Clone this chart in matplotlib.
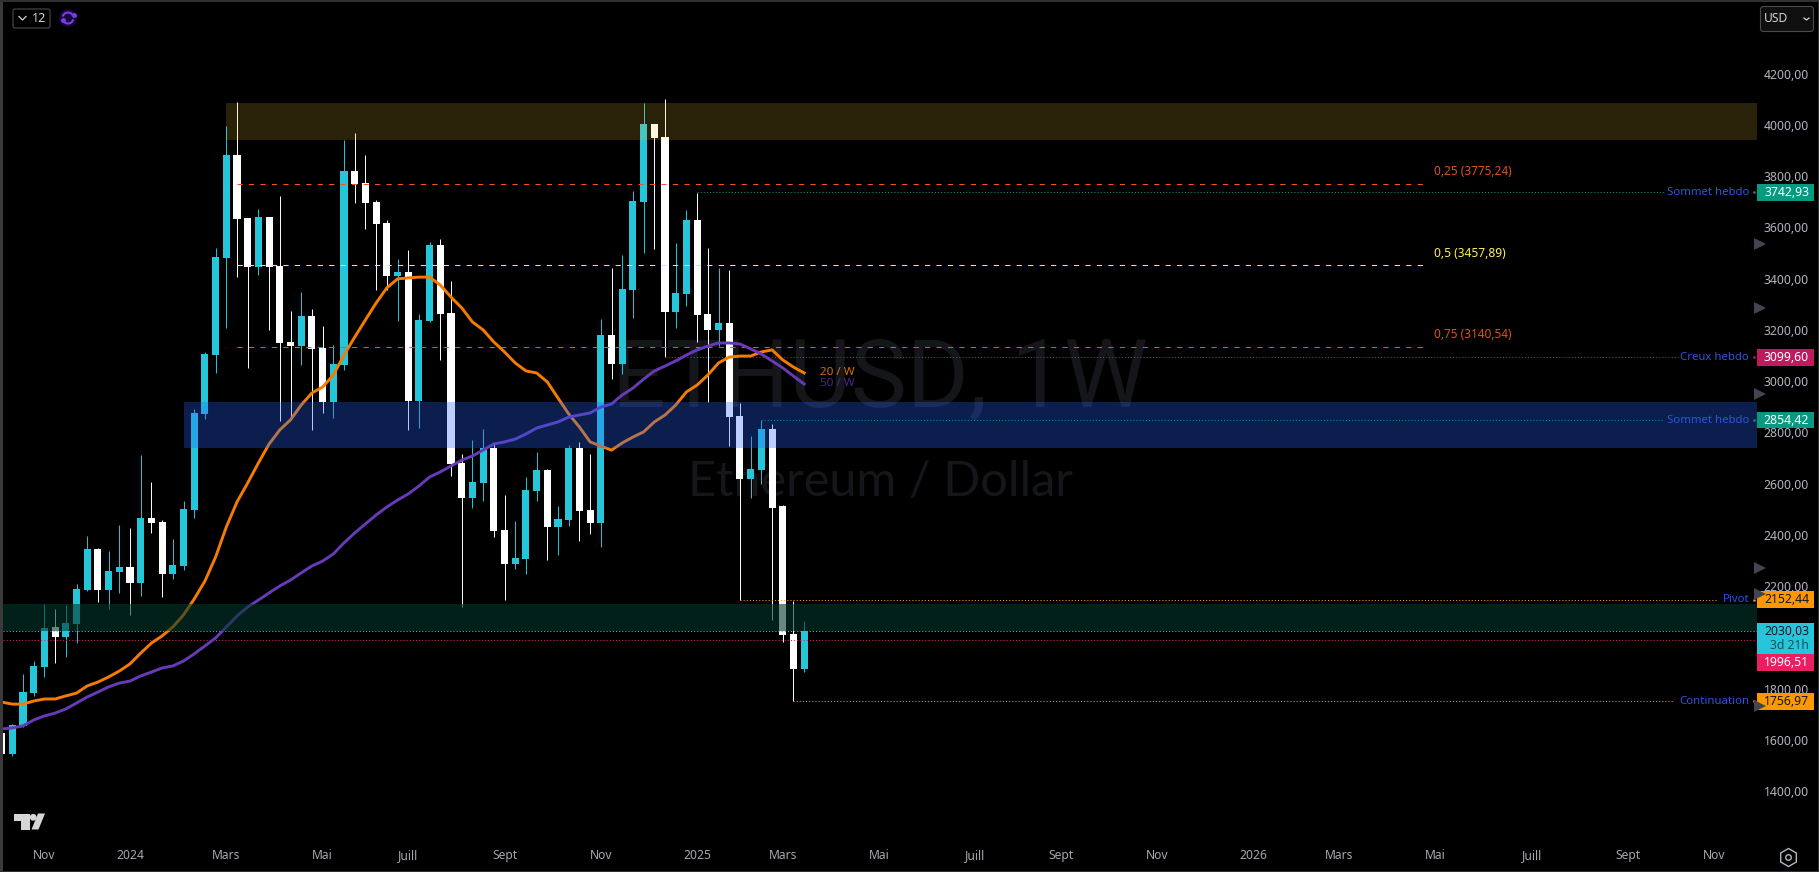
import matplotlib
matplotlib.use("Agg")
import matplotlib.pyplot as plt
from matplotlib.patches import Rectangle, Polygon, FancyBboxPatch, Arc, Circle
from matplotlib.transforms import blended_transform_factory

# ------------------ Weekly candles (ETHUSD) ------------------
opens = [1633, 1551, 1661, 1789, 1891, 2047, 2008, 2059, 2191, 2351, 2191, 2261, 2281, 2219, 2472, 2457, 2254, 2285, 2503,
         2878, 3108, 3487, 3888, 3643, 3452, 3647, 3455, 3159, 3143, 3260, 3135, 2925, 3069, 3826, 3779, 3705, 3623, 3416,
         3432, 2929, 3241, 3537, 3272, 2687, 2550, 2609, 2745, 2425, 2293, 2312, 2577, 2659, 2437, 2464, 2745, 2503, 2453,
         3186, 3073, 3362, 3705, 4009, 3959, 3276, 3346, 3635, 3268, 3206, 3233, 2870, 2624, 2659, 2819, 2519, 2020, 1883]
highs = [1637, 1668, 1863, 1914, 2137, 2117, 2133, 2215, 2402, 2355, 2343, 2445, 2433, 2718, 2613, 2464, 2390, 2538, 2897,
         3120, 3526, 4002, 4095, 3643, 3678, 3647, 3729, 3280, 3354, 3288, 3221, 3147, 3947, 3974, 3888, 3713, 3635, 3483,
         3518, 3268, 3549, 3561, 3397, 2722, 2776, 2819, 2765, 2562, 2460, 2632, 2730, 2663, 2519, 2757, 2769, 2722, 3249,
         3448, 3498, 3748, 4091, 4009, 4107, 3545, 3674, 3740, 3526, 3448, 3440, 2921, 2792, 2855, 2839, 2523, 2148, 2070]
lows = [1551, 1544, 1657, 1778, 1852, 1906, 1930, 1984, 2187, 2144, 2117, 2180, 2094, 2168, 2414, 2164, 2234, 2269, 2472,
        2858, 3038, 3213, 3412, 3057, 3420, 3206, 2851, 2858, 3069, 2816, 2882, 2862, 3050, 3701, 3600, 3362, 3362, 3241,
        2816, 2823, 3237, 3089, 2636, 2125, 2511, 2538, 2398, 2152, 2273, 2254, 2538, 2308, 2328, 2441, 2382, 2410, 2359,
        3015, 3034, 3253, 3506, 3522, 3100, 3213, 3299, 3159, 2925, 3143, 2753, 2152, 2550, 2605, 2074, 1988, 1757, 1871]
closes = [1551, 1664, 1793, 1895, 2043, 2008, 2063, 2195, 2351, 2191, 2265, 2281, 2219, 2472, 2453, 2254, 2289, 2507, 2882,
          3112, 3490, 3888, 3639, 3452, 3647, 3452, 3155, 3143, 3260, 3132, 2925, 3073, 3826, 3775, 3701, 3619, 3416, 3432,
          2929, 3245, 3537, 3268, 2683, 2550, 2613, 2745, 2421, 2293, 2316, 2581, 2659, 2437, 2468, 2745, 2499, 2453, 3186,
          3073, 3366, 3709, 4009, 3955, 3276, 3350, 3635, 3264, 3206, 3233, 2866, 2624, 2663, 2819, 2511, 2016, 1883, 2030]

# ------------------ Moving averages ------------------
ma20 = [1754, 1746, 1746, 1758, 1766, 1766, 1778, 1789, 1817, 1832, 1852, 1875, 1903, 1945, 1984, 2012, 2047, 2094, 2156,
        2226, 2320, 2437, 2535, 2609, 2687, 2761, 2816, 2855, 2913, 2960, 2983, 3030, 3108, 3178, 3245, 3311, 3370, 3405,
        3409, 3412, 3412, 3381, 3334, 3292, 3237, 3206, 3159, 3120, 3077, 3046, 3038, 3003, 2940, 2878, 2827, 2769, 2753,
        2737, 2765, 2788, 2808, 2847, 2874, 2913, 2964, 2991, 3030, 3077, 3100, 3104, 3104, 3120, 3128, 3089, 3061, 3038]
ma50 = [1649, 1653, 1661, 1684, 1700, 1711, 1727, 1750, 1774, 1793, 1813, 1828, 1836, 1856, 1871, 1887, 1895, 1914, 1942,
        1973, 2004, 2047, 2090, 2125, 2152, 2180, 2207, 2230, 2258, 2285, 2304, 2332, 2375, 2414, 2449, 2484, 2515, 2542,
        2566, 2597, 2632, 2652, 2675, 2698, 2714, 2737, 2761, 2769, 2780, 2800, 2823, 2835, 2847, 2866, 2874, 2882, 2905,
        2917, 2952, 2979, 3014, 3046, 3065, 3085, 3108, 3128, 3143, 3155, 3155, 3151, 3132, 3112, 3085, 3058, 3026, 2995]

# ------------------ Levels, zones, axis labels ------------------
fib_levels = [3775.24, 3457.89, 3140.54]
fib_labels = ["0,25 (3775,24)", "0,5 (3457,89)", "0,75 (3140,54)"]
fib_colors = ["#f4511e", "#ffeb3b", "#f4511e"]
level_prices = [3742.93, 3099.60, 2854.42, 2152.44, 1756.97]
level_names = ["Sommet hebdo", "Creux hebdo", "Sommet hebdo", "Pivot", "Continuation"]
level_start = [65, 62, 71, 69, 74]
level_end = [155.4, 156.7, 155.4, 160.3, 156.3]
level_colors = ["#089981", "#bf1a5f", "#089981", "#ff9800", "#ff9800"]
level_text = ["#ffffff", "#ffffff", "#ffffff", "#131722", "#131722"]
last_price = 2030.03
prev_close = 1996.51
zone_low = [3947, 2745, 2031]
zone_high = [4091, 2925, 2137]
zone_start = [21, 17, 0]
price_ticks = list(range(1400, 4201, 200))
time_ticks = [4, 12, 21, 30, 38, 47, 56, 65, 73, 82, 91, 99, 108, 117, 125, 134, 143, 152, 160]
time_labels = ["Nov", "2024", "Mars", "Mai", "Juill", "Sept", "Nov", "2025", "Mars", "Mai", "Juill", "Sept", "Nov", "2026",
               "Mars", "Mai", "Juill", "Sept", "Nov"]
marker_rows = [244, 308, 394, 568, 594, 706]

CYAN = "#26c6da"
W, H = 1819, 872
plt.rcParams["font.family"] = ["Noto Sans", "DejaVu Sans"]

fig = plt.figure(figsize=(W / 100, H / 100), dpi=100, facecolor="black")
ax = fig.add_axes([3 / W, 1 - 840 / H, 1754 / W, 837 / H], facecolor="black")
weeks = list(range(len(closes)))
x_max = 164.05
ax.set_xlim(0.13, x_max)
ax.set_ylim(1215.8, 4481.5)
for s in ax.spines.values():
    s.set_visible(False)

ax.set_yticks(price_ticks)
ax.set_yticklabels([f"{p},00" for p in price_ticks], ha="right", va="center")
ax.yaxis.tick_right()
ax.tick_params(axis="y", length=0, pad=37.4, labelsize=8.8, labelcolor="#b2b5be")
ax.set_xticks(time_ticks)
ax.set_xticklabels(time_labels)
ax.tick_params(axis="x", length=0, pad=6.5, labelsize=8.7, labelcolor="#a5a8b0")
for lab in ax.get_xticklabels():
    if lab.get_text().isdigit():
        lab.set_fontweight("bold")

# watermark sits under everything
ax.text(0.5, 0.549, "ETHUSD, 1W", transform=ax.transAxes, ha="center", va="center", fontsize=68,
        color="#14161a", family="Roboto", zorder=0)
ax.text(0.5, 0.428, "Ethereum / Dollar", transform=ax.transAxes, ha="center", va="center", fontsize=35,
        color="#14161a", family="Lato", zorder=0)

# candles
colors = [CYAN if c >= o else "white" for o, c in zip(opens, closes)]
ax.vlines(weeks, lows, highs, colors=colors, linewidth=0.7, zorder=3)
ax.bar(weeks, [abs(c - o) for o, c in zip(opens, closes)], bottom=[min(o, c) for o, c in zip(opens, closes)],
       width=0.66, color=colors, linewidth=0, zorder=3)

# fib lines + labels
for lvl, lab, col in zip(fib_levels, fib_labels, fib_colors):
    ax.hlines(lvl, 22, 133.1, color=col, linewidth=0.75, linestyles=(0, (5, 6)), zorder=4)
    bold = lab.startswith("0,5")
    ax.annotate(lab, xy=(133.9, lvl), xytext=(0, 8.8), textcoords="offset points", ha="left", va="center",
                fontsize=8.6 if bold else 8.5, color="#ffee58" if bold else "#d9541c",
                fontweight="bold" if bold else "normal")

# dotted levels
for price, start, end, col in zip(level_prices, level_start, level_end, level_colors):
    ax.hlines(price, start, end, color=col, linewidth=0.75, linestyles=(0, (1, 2)), zorder=4)
ax.hlines(last_price, 0.13, x_max, color=CYAN, linewidth=0.75, linestyles=(0, (1, 2)), zorder=4)
ax.hlines(prev_close, 0.13, x_max, color="#e91e63", linewidth=0.75, linestyles=(0, (1, 2)), zorder=4)

# moving averages
ax.plot(weeks, ma20, color="#f57c00", linewidth=2.1, zorder=5, solid_joinstyle="round")
ax.plot(weeks, ma50, color="#673ab7", linewidth=2.1, zorder=5, solid_joinstyle="round")

# zones go on top of candles, that is how the tint shows on the bodies
ax.fill_between([zone_start[0], x_max], zone_low[0], zone_high[0], color="#ffd23c", alpha=0.165, linewidth=0, zorder=6)
ax.fill_between([zone_start[1], x_max], zone_low[1], zone_high[1], color="#2962ff", alpha=0.31, linewidth=0, zorder=6)
ax.fill_between([zone_start[2], x_max], zone_low[2], zone_high[2], color="#05372d", alpha=0.6, linewidth=0, zorder=6)

# ------------------ Pixel overlay for the TradingView chrome ------------------
ui = fig.add_axes([0, 0, 1, 1], zorder=5)
ui.set_xlim(0, W)
ui.set_ylim(H, 0)
ui.axis("off")
ui.patch.set_alpha(0)
blend = blended_transform_factory(ui.transData, ax.transData)

# frame
ui.add_patch(Rectangle((0, 0), 3, H, color="#3a3a3a", linewidth=0))
ui.add_patch(Rectangle((0, 0), W, 2, color="#303030", linewidth=0))
ui.add_patch(Rectangle((W - 1, 0), 1, H, color="#303030", linewidth=0))
ui.add_patch(Rectangle((0, H - 1), W, 1, color="#303030", linewidth=0))

ui.text(820, 372.5, "20 / W", color="#d96f00", fontsize=8.4, ha="left", va="center")
ui.text(820, 383.5, "50 / W", color="#48288c", fontsize=8.4, ha="left", va="center")

# price badges with the blue names next to them
for price, name, col, txt in zip(level_prices, level_names, level_colors, level_text):
    ui.add_patch(Rectangle((1757, price - 33), 57, 66, transform=blend, color=col, linewidth=0, zorder=3))
    ui.text(1809, price, f"{price:.2f}".replace(".", ","), transform=blend, ha="right", va="center",
            fontsize=8.8, color=txt, fontweight="bold" if txt == "#ffffff" else "normal", zorder=4)
    ui.text(1749, price, name, transform=blend, ha="right", va="center", fontsize=8.2, color="#2a55e0", zorder=4)
    ui.plot([1753.5], [price], marker="s", ms=0.8, color=col, transform=blend, zorder=4)

# countdown + previous close badges are pushed away from their price
ui.add_patch(Rectangle((1757, 623), 57, 31, color=CYAN, linewidth=0, zorder=3))
ui.text(1809, 631, f"{last_price:.2f}".replace(".", ","), ha="right", va="center", fontsize=8.8, color="#131722", zorder=4)
ui.text(1809, 645, "3d 21h", ha="right", va="center", fontsize=8.8, color="#14505a", zorder=4)
ui.add_patch(Rectangle((1757, 654), 57, 17, color="#e91e63", linewidth=0, zorder=3))
ui.text(1809, 662.5, f"{prev_close:.2f}".replace(".", ","), ha="right", va="center", fontsize=8.8, color="white",
        fontweight="bold", zorder=4)

# alert markers on the price scale
ui.plot([1760] * len(marker_rows), marker_rows, linestyle="none", marker=">", ms=8.5, color="#434651", zorder=5,
        markeredgewidth=0)

# top left interval button
ui.add_patch(FancyBboxPatch((13, 9), 37, 19, boxstyle="round,pad=0,rounding_size=2", fc="black", ec="#4a4a4a", lw=0.8))
ui.plot([19, 22.5, 26], [16.5, 20, 16.5], color="#d1d4dc", linewidth=0.9)
ui.text(39, 18.3, "12", color="#d1d4dc", fontsize=9, ha="center", va="center")
ui.add_patch(Circle((68, 18), 9, color="#160a38", linewidth=0))
ui.add_patch(Arc((68, 18), 11, 11, theta1=195, theta2=340, color="#7c3aed", linewidth=1.5))
ui.add_patch(Arc((68, 18), 11, 11, theta1=15, theta2=160, color="#7c3aed", linewidth=1.5))
ui.plot([73.5, 62.5], [15.5, 20.5], linestyle="none", marker="o", ms=2.5, color="#7c3aed")

# USD button
ui.add_patch(FancyBboxPatch((1760.5, 6.5), 53, 25, boxstyle="round,pad=0,rounding_size=3", fc="#0f0f0f", ec="#4a4a4a", lw=0.8))
ui.text(1764, 19, "USD", color="#d1d4dc", fontsize=8.7, ha="left", va="center")
ui.plot([1804, 1806.5, 1809], [18, 20, 18], color="#d1d4dc", linewidth=0.9)

# TV logo
ui.add_patch(Polygon([(14, 813.5), (29.5, 813.5), (29.5, 829.5), (21, 829.5), (21, 821), (14, 821)], color="#d6d6d6", linewidth=0))
ui.add_patch(Circle((33.2, 817.3), 3.4, color="#d6d6d6", linewidth=0))
ui.add_patch(Polygon([(38, 813.5), (45, 813.5), (38.5, 829.5), (31.5, 829.5)], color="#d6d6d6", linewidth=0))

# settings hexagon
ui.plot([1788], [857], marker="h", ms=13, mfc="none", mec="#b2b5be", mew=1)
ui.plot([1788], [857], marker="o", ms=4, mfc="none", mec="#b2b5be", mew=1)

fig.savefig("out.png", dpi=100, facecolor="black")
plt.close(fig)
